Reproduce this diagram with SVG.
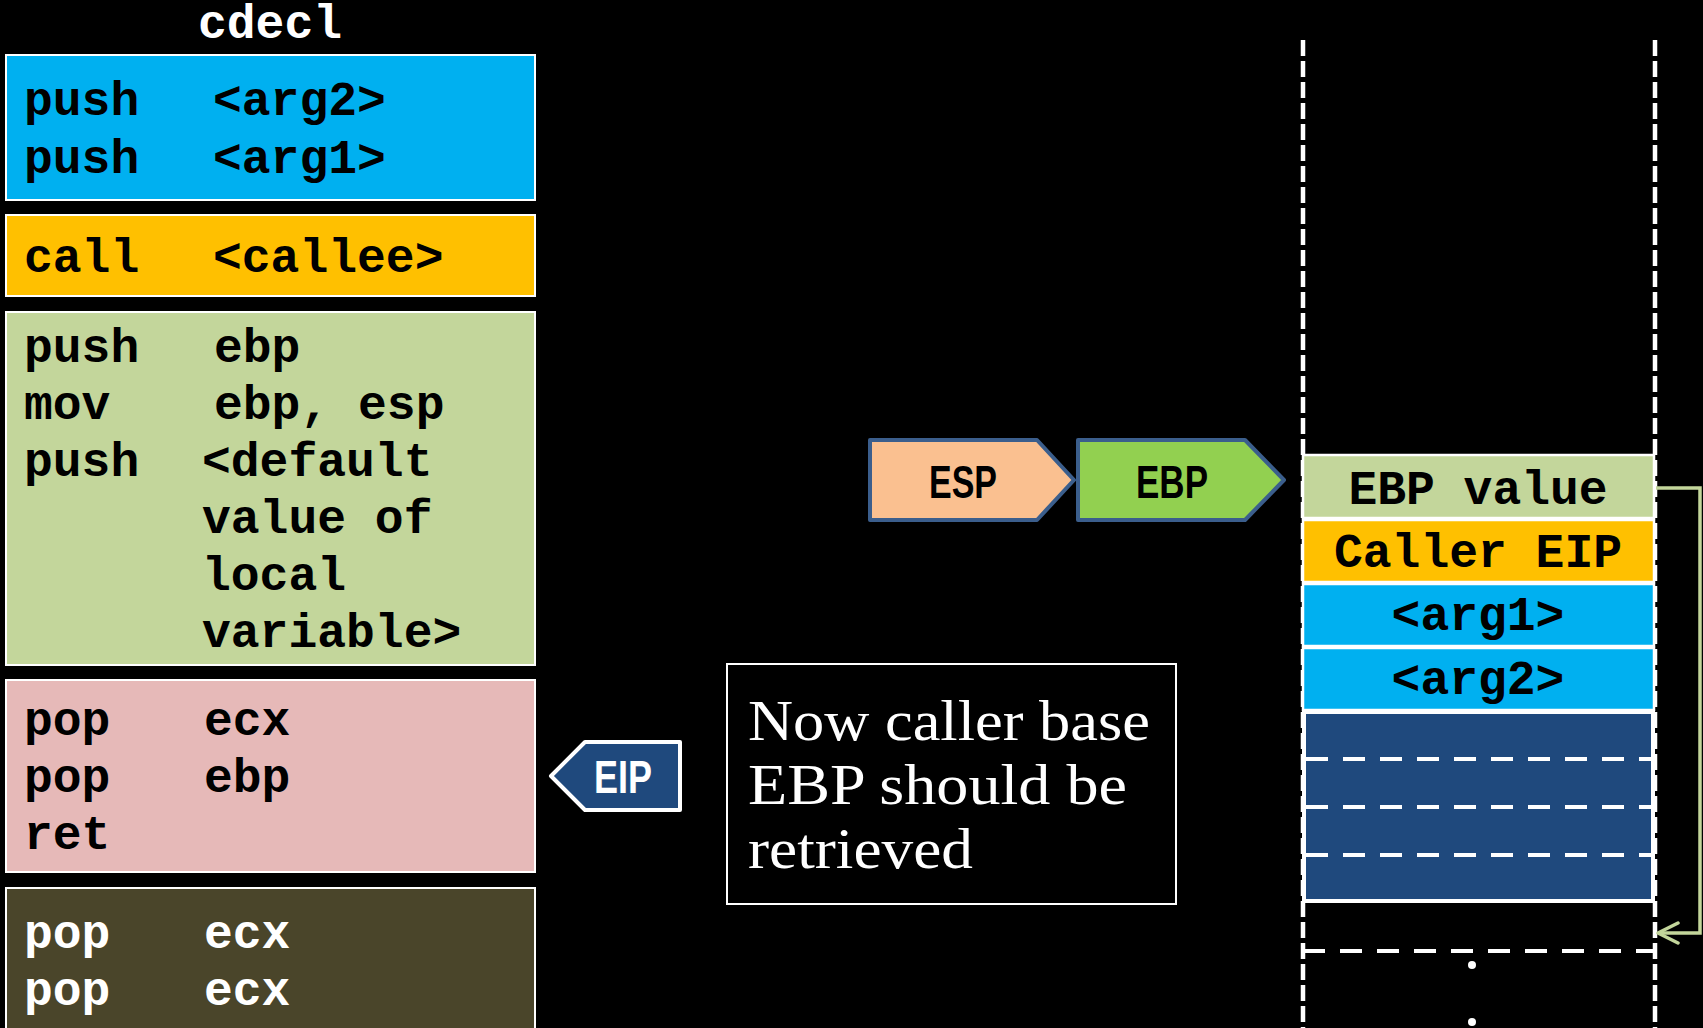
<svg xmlns="http://www.w3.org/2000/svg" width="1703" height="1028" viewBox="0 0 1703 1028">
<style>
.code{font-family:"Liberation Mono","Courier New",monospace;font-weight:bold;font-size:48px;fill:#000}
.codew{font-family:"Liberation Mono","Courier New",monospace;font-weight:bold;font-size:48px;fill:#fff}
.box{stroke:#fff;stroke-width:2}
.cell{stroke:#fff;stroke-width:2.5}
.reg{font-family:"Liberation Sans",Arial,sans-serif;font-weight:bold;font-size:46px;text-anchor:middle}
.vdash{stroke:#fff;stroke-width:4.5;stroke-dasharray:16 5;fill:none}
.hdash{stroke:#fff;stroke-width:4;stroke-dasharray:22 15;fill:none}
.note{font-family:"Liberation Serif","Times New Roman",serif;font-size:56px;fill:#fff}
</style>
<defs>
<marker id="chev" viewBox="0 0 24 24" refX="22" refY="12" markerWidth="24" markerHeight="24" markerUnits="userSpaceOnUse" orient="auto">
<path d="M2,2 L22,12 L2,22" fill="none" stroke="#c3d69b" stroke-width="3.5" stroke-linecap="round" stroke-linejoin="round"/>
</marker>
</defs>
<rect x="0" y="0" width="1703" height="1028" fill="#000"/>

<g id="title">
<text class="codew" x="270" y="38" text-anchor="middle">cdecl</text>
</g>

<g id="push-args">
<rect class="box" x="6" y="55" width="529" height="145" fill="#00b0f0"/>
<text class="code" x="24" y="115">push</text><text class="code" x="213" y="115">&lt;arg2&gt;</text>
<text class="code" x="24" y="173">push</text><text class="code" x="213" y="173">&lt;arg1&gt;</text>
</g>

<g id="call">
<rect class="box" x="6" y="215" width="529" height="81" fill="#ffc000"/>
<text class="code" x="24" y="272">call</text><text class="code" x="213" y="272">&lt;callee&gt;</text>
</g>

<g id="prologue">
<rect class="box" x="6" y="312" width="529" height="353" fill="#c3d69b"/>
<text class="code" x="24" y="362">push</text><text class="code" x="214" y="362">ebp</text>
<text class="code" x="24" y="419">mov</text><text class="code" x="214" y="419">ebp, esp</text>
<text class="code" x="24" y="476">push</text><text class="code" x="202" y="476">&lt;default</text>
<text class="code" x="202" y="533">value of</text>
<text class="code" x="202" y="590">local</text>
<text class="code" x="202" y="647">variable&gt;</text>
</g>

<g id="epilogue">
<rect class="box" x="6" y="680" width="529" height="192" fill="#e6b9b8"/>
<text class="code" x="24" y="735">pop</text><text class="code" x="204" y="735">ecx</text>
<text class="code" x="24" y="792">pop</text><text class="code" x="204" y="792">ebp</text>
<text class="code" x="24" y="849">ret</text>
</g>

<g id="cleanup">
<rect class="box" x="6" y="888" width="529" height="160" fill="#4a452a"/>
<text class="codew" x="24" y="948">pop</text><text class="codew" x="204" y="948">ecx</text>
<text class="codew" x="24" y="1005">pop</text><text class="codew" x="204" y="1005">ecx</text>
</g>

<g id="eip">
<path d="M551,776 L585,742 L680,742 L680,810 L585,810 Z" fill="#1f497d" stroke="#fff" stroke-width="4" stroke-linejoin="round"/>
<text class="reg" x="623" y="793" fill="#fff" textLength="58" lengthAdjust="spacingAndGlyphs">EIP</text>
</g>

<g id="note">
<rect x="727" y="664" width="449" height="240" fill="none" stroke="#fff" stroke-width="2"/>
<text class="note" x="748" y="740" textLength="402" lengthAdjust="spacingAndGlyphs">Now caller base</text>
<text class="note" x="748" y="804" textLength="379" lengthAdjust="spacingAndGlyphs">EBP should be</text>
<text class="note" x="748" y="868" textLength="225" lengthAdjust="spacingAndGlyphs">retrieved</text>
</g>

<g id="esp">
<path d="M870,440 L1037,440 L1074,480 L1037,520 L870,520 Z" fill="#fac090" stroke="#3b5e8c" stroke-width="4" stroke-linejoin="round"/>
<text class="reg" x="963" y="498" fill="#000" textLength="68" lengthAdjust="spacingAndGlyphs">ESP</text>
</g>

<g id="ebp">
<path d="M1078,440 L1245,440 L1284,480 L1245,520 L1078,520 Z" fill="#92d050" stroke="#3b5e8c" stroke-width="4" stroke-linejoin="round"/>
<text class="reg" x="1172" y="498" fill="#000" textLength="72" lengthAdjust="spacingAndGlyphs">EBP</text>
</g>

<g id="stack-frame">
<line class="vdash" x1="1303" y1="40" x2="1303" y2="1028"/>
<line class="vdash" x1="1655" y1="40" x2="1655" y2="1028"/>
<line class="hdash" x1="1303" y1="951" x2="1655" y2="951"/>
<circle cx="1472" cy="965" r="4" fill="#fff"/>
<circle cx="1472" cy="1022" r="4" fill="#fff"/>
</g>

<g id="stack-ebp-value">
<rect class="cell" x="1303" y="455" width="351" height="63" fill="#c3d69b"/>
<text class="code" x="1478" y="504" text-anchor="middle">EBP value</text>
</g>
<g id="stack-caller-eip">
<rect class="cell" x="1303" y="520" width="351" height="62" fill="#ffc000"/>
<text class="code" x="1478" y="567" text-anchor="middle">Caller EIP</text>
</g>
<g id="stack-arg1">
<rect class="cell" x="1303" y="584" width="351" height="62" fill="#00b0f0"/>
<text class="code" x="1478" y="630" text-anchor="middle">&lt;arg1&gt;</text>
</g>
<g id="stack-arg2">
<rect class="cell" x="1303" y="648" width="351" height="62" fill="#00b0f0"/>
<text class="code" x="1478" y="694" text-anchor="middle">&lt;arg2&gt;</text>
</g>
<g id="stack-locals">
<rect x="1304" y="712" width="349" height="189" fill="#1f497d" stroke="#fff" stroke-width="4"/>
<line class="hdash" x1="1306" y1="759" x2="1651" y2="759"/>
<line class="hdash" x1="1306" y1="807" x2="1651" y2="807"/>
<line class="hdash" x1="1306" y1="855" x2="1651" y2="855"/>
</g>

<g id="connectors">
<path d="M1656,488 L1700,488 L1700,933 L1658,933" fill="none" stroke="#c3d69b" stroke-width="3.5" marker-end="url(#chev)"/>
</g>
</svg>
